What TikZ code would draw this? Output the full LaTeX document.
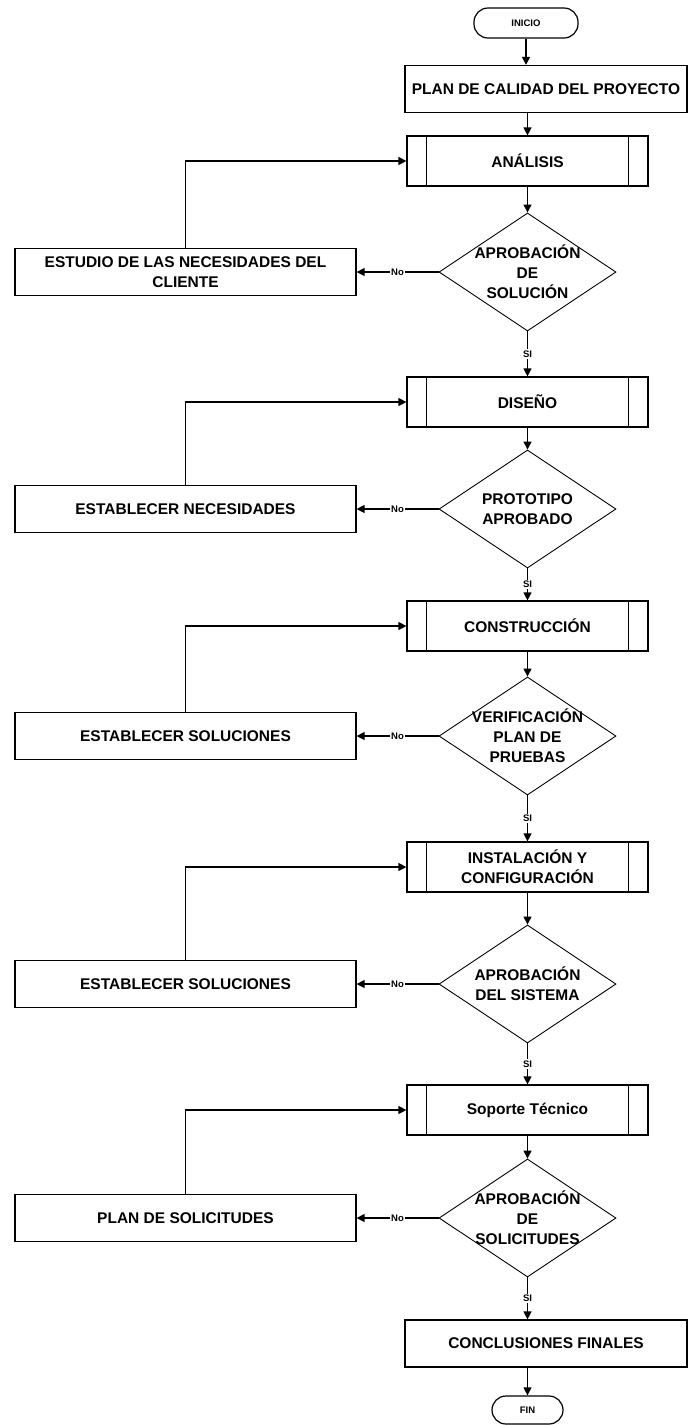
\documentclass[tikz,border=0pt]{standalone}
\usepackage{fontspec}
\setmainfont{Liberation Sans}
\usetikzlibrary{shapes.geometric,arrows.meta}

\begin{document}
\begin{tikzpicture}[x=1pt,y=-1pt,
  every node/.style={font=\bfseries\fontsize{15.5}{20}\selectfont, align=center, inner sep=0pt},
  line/.style={line width=1.2pt},
  flow/.style={line width=1.2pt, -{Triangle[length=8pt,width=8pt]}},
  proc/.style={draw, line width=1.2pt, minimum width=241pt, minimum height=50pt},
  wide/.style={draw, line width=1.2pt, minimum width=282pt, minimum height=47pt},
  side/.style={draw, line width=1.2pt, minimum width=341pt, minimum height=47pt},
  decision/.style={draw, diamond, line width=0.9pt, minimum width=177pt, minimum height=118pt},
  term/.style={draw, line width=1.2pt, rounded corners=14pt, font=\bfseries\fontsize{9.5}{10}\selectfont},
  tag/.style={fill=white, font=\bfseries\fontsize{9.5}{10}\selectfont, inner sep=1.5pt},
]
\useasboundingbox (0,0) rectangle (688,1425);

% main column
\node[term, minimum width=104pt, minimum height=30pt] (inicio) at (526,23) {INICIO};
\node[wide] (plan) at (546,89) {PLAN DE CALIDAD DEL PROYECTO};

\node[proc] (analisis) at (527.5,161) {ANÁLISIS};
\node[decision, label={[align=center]center:{APROBACIÓN\\DE\\SOLUCIÓN}}] (d1) at (527.5,272) {};
\node[side] (b1) at (185.5,272) {ESTUDIO DE LAS NECESIDADES DEL\\CLIENTE};

\node[proc] (diseno) at (527.5,402) {DISEÑO};
\node[decision, label={[align=center]center:{PROTOTIPO\\APROBADO}}] (d2) at (527.5,509) {};
\node[side] (b2) at (185.5,509) {ESTABLECER NECESIDADES};

\node[proc] (construccion) at (527.5,626) {CONSTRUCCIÓN};
\node[decision, label={[align=center]center:{VERIFICACIÓN\\PLAN DE\\PRUEBAS}}] (d3) at (527.5,736) {};
\node[side] (b3) at (185.5,736) {ESTABLECER SOLUCIONES};

\node[proc] (instalacion) at (527.5,867) {INSTALACIÓN Y\\CONFIGURACIÓN};
\node[decision, label={[align=center]center:{APROBACIÓN\\DEL SISTEMA}}] (d4) at (527.5,984) {};
\node[side] (b4) at (185.5,984) {ESTABLECER SOLUCIONES};

\node[proc] (soporte) at (527.5,1110) {Soporte Técnico};
\node[decision, label={[align=center]center:{APROBACIÓN\\DE\\SOLICITUDES}}] (d5) at (527.5,1218) {};
\node[side] (b5) at (185.5,1218) {PLAN DE SOLICITUDES};

\node[wide] (conclusiones) at (546,1343.5) {CONCLUSIONES FINALES};
\node[term, minimum width=71pt, minimum height=28pt] (fin) at (527.5,1410) {FIN};

% side bars of the predefined-process boxes
\foreach \n in {analisis,diseno,construccion,instalacion,soporte}{
  \draw[line] ([xshift=20pt]\n.north west) -- ([xshift=20pt]\n.south west);
  \draw[line] ([xshift=-20pt]\n.north east) -- ([xshift=-20pt]\n.south east);
}

% connectors
\draw[flow] (inicio.south) -- (inicio.south |- plan.north);
\draw[flow] (analisis.north |- plan.south) -- (analisis.north);

\draw[flow] (analisis.south) -- (d1.north);
\draw[flow] (d1.west) -- node[tag]{No} (b1.east);
\draw[flow] (b1.north) |- (analisis.west);
\draw[flow] (d1.south) -- node[tag]{SI} (diseno.north);

\draw[flow] (diseno.south) -- (d2.north);
\draw[flow] (d2.west) -- node[tag]{No} (b2.east);
\draw[flow] (b2.north) |- (diseno.west);
\draw[flow] (d2.south) -- node[tag]{SI} (construccion.north);

\draw[flow] (construccion.south) -- (d3.north);
\draw[flow] (d3.west) -- node[tag]{No} (b3.east);
\draw[flow] (b3.north) |- (construccion.west);
\draw[flow] (d3.south) -- node[tag]{SI} (instalacion.north);

\draw[flow] (instalacion.south) -- (d4.north);
\draw[flow] (d4.west) -- node[tag]{No} (b4.east);
\draw[flow] (b4.north) |- (instalacion.west);
\draw[flow] (d4.south) -- node[tag]{SI} (soporte.north);

\draw[flow] (soporte.south) -- (d5.north);
\draw[flow] (d5.west) -- node[tag]{No} (b5.east);
\draw[flow] (b5.north) |- (soporte.west);
\draw[flow] (d5.south) -- node[tag]{SI} (d5.south |- conclusiones.north);

\draw[flow] (fin.north |- conclusiones.south) -- (fin.north);
\end{tikzpicture}
\end{document}
